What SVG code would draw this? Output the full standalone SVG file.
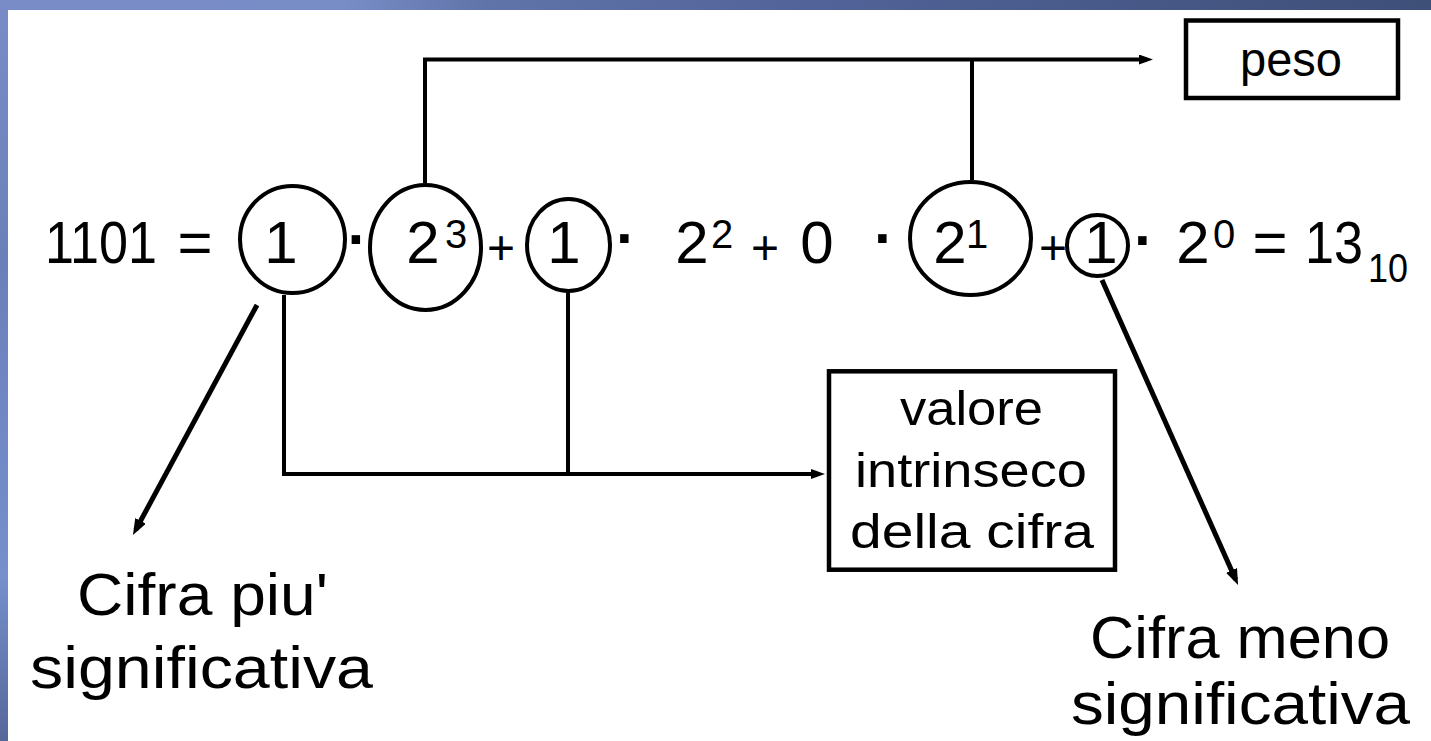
<svg xmlns="http://www.w3.org/2000/svg" width="1431" height="741" viewBox="0 0 1431 741">
  <defs>
    <linearGradient id="topband" x1="0" y1="0" x2="1" y2="0">
      <stop offset="0" stop-color="#7a8cc8"/>
      <stop offset="0.24" stop-color="#788cc6"/>
      <stop offset="0.34" stop-color="#6174a9"/>
      <stop offset="0.55" stop-color="#52649a"/>
      <stop offset="1" stop-color="#3e4f78"/>
    </linearGradient>
    <linearGradient id="leftband" x1="0" y1="0" x2="0" y2="1">
      <stop offset="0" stop-color="#7a8cc8"/>
      <stop offset="0.35" stop-color="#6b80ba"/>
      <stop offset="0.6" stop-color="#7189c6"/>
      <stop offset="0.78" stop-color="#7590cc"/>
      <stop offset="1" stop-color="#56679a"/>
    </linearGradient>
    <marker id="ahSmall" markerUnits="userSpaceOnUse" markerWidth="16" markerHeight="12" refX="8" refY="5" orient="auto">
      <path d="M0,0 L14,5 L0,10 z" fill="#000"/>
    </marker>
    <marker id="ahBig" markerUnits="userSpaceOnUse" markerWidth="18" markerHeight="14" refX="10" refY="6" orient="auto">
      <path d="M0,0 L16,6 L0,12 z" fill="#000"/>
    </marker>
  </defs>
  <style>
    .t { font-family: "Liberation Sans", Arial, sans-serif; fill: #000; }
    .eq { font-size: 60px; text-anchor: middle; }
    .sup { font-size: 40px; text-anchor: middle; }
    .op { font-size: 48px; text-anchor: middle; }
    .dot { font-size: 60px; font-weight: bold; text-anchor: middle; }
    .lbl { font-size: 60px; text-anchor: middle; }
    .box { font-size: 48px; text-anchor: middle; }
    .ring { fill: none; stroke: #000; stroke-width: 4; }
    .frame { fill: #fff; stroke: #000; stroke-width: 4.5; }
    .wire { fill: none; stroke: #000; stroke-width: 4; }
    .diag { fill: none; stroke: #000; stroke-width: 5; }
  </style>

  <rect x="0" y="0" width="1431" height="741" fill="#fff"/>
  <rect x="0" y="0" width="1431" height="10" fill="url(#topband)"/>
  <rect x="0" y="0" width="8" height="741" fill="url(#leftband)"/>

  <g id="connectors">
    <polyline class="wire" points="425,183 425,59.5 1147,59.5" marker-end="url(#ahSmall)"/>
    <line class="wire" x1="972" y1="59.5" x2="972" y2="180"/>
    <polyline class="wire" points="284,295 284,474 819,474" marker-end="url(#ahSmall)"/>
    <line class="wire" x1="568" y1="293" x2="568" y2="474"/>
    <line class="diag" x1="257" y1="305" x2="135.8" y2="529.7" marker-end="url(#ahBig)"/>
    <line class="diag" x1="1102" y1="280" x2="1235.6" y2="579.5" marker-end="url(#ahBig)"/>
  </g>

  <g id="circle-msd"><ellipse class="ring" cx="292.5" cy="239.5" rx="52.5" ry="53.5"/></g>
  <g id="circle-w3"><ellipse class="ring" cx="425.5" cy="247.5" rx="55.5" ry="62.5"/></g>
  <g id="circle-d2"><ellipse class="ring" cx="568.5" cy="245" rx="41.5" ry="46"/></g>
  <g id="circle-w1"><ellipse class="ring" cx="970.5" cy="238.5" rx="60.5" ry="56.5"/></g>
  <g id="circle-lsd"><ellipse class="ring" cx="1097.5" cy="245.5" rx="30.5" ry="30.5"/></g>

  <g id="equation">
    <text class="t eq" x="101" y="263" textLength="112" lengthAdjust="spacingAndGlyphs">1101</text>
    <text class="t eq" x="195" y="263">=</text>
    <text class="t eq" x="281" y="263">1</text>
    <text class="t dot" x="357.5" y="259">·</text>
    <text class="t eq" x="423" y="263">2</text>
    <text class="t sup" x="456" y="248">3</text>
    <text class="t op" x="501" y="264">+</text>
    <text class="t eq" x="564" y="263">1</text>
    <text class="t dot" x="626" y="258">·</text>
    <text class="t eq" x="692" y="263">2</text>
    <text class="t sup" x="722" y="248">2</text>
    <text class="t op" x="765" y="264">+</text>
    <text class="t eq" x="817" y="263">0</text>
    <text class="t dot" x="884" y="258">·</text>
    <text class="t eq" x="950" y="263">2</text>
    <text class="t sup" x="977" y="248">1</text>
    <text class="t op" x="1053" y="264">+</text>
    <text class="t eq" x="1101" y="263">1</text>
    <text class="t dot" x="1144" y="260">·</text>
    <text class="t eq" x="1193" y="263">2</text>
    <text class="t sup" x="1224" y="248">0</text>
    <text class="t eq" x="1270" y="263">=</text>
    <text class="t eq" x="1334" y="263" textLength="58" lengthAdjust="spacingAndGlyphs">13</text>
    <text class="t sup" x="1388" y="282" font-size="46" textLength="40" lengthAdjust="spacingAndGlyphs">10</text>
  </g>

  <g id="peso">
    <rect class="frame" x="1186" y="20.5" width="212" height="77.5"/>
    <text class="t box" x="1291" y="76" textLength="102" lengthAdjust="spacingAndGlyphs">peso</text>
  </g>

  <g id="valore">
    <rect class="frame" x="829" y="371.3" width="286" height="198.4"/>
    <text class="t box" x="971.5" y="425" textLength="143" lengthAdjust="spacingAndGlyphs">valore</text>
    <text class="t box" x="971" y="487" textLength="232" lengthAdjust="spacingAndGlyphs">intrinseco</text>
    <text class="t box" x="972" y="548" textLength="244" lengthAdjust="spacingAndGlyphs">della cifra</text>
  </g>

  <g id="label-msd">
    <text class="t lbl" x="202.5" y="615" textLength="251" lengthAdjust="spacingAndGlyphs">Cifra piu'</text>
    <text class="t lbl" x="201.5" y="688" textLength="343" lengthAdjust="spacingAndGlyphs">significativa</text>
  </g>

  <g id="label-lsd">
    <text class="t lbl" x="1240" y="658" textLength="300" lengthAdjust="spacingAndGlyphs">Cifra meno</text>
    <text class="t lbl" x="1240.5" y="724" font-size="56" textLength="339" lengthAdjust="spacingAndGlyphs">significativa</text>
  </g>
</svg>
